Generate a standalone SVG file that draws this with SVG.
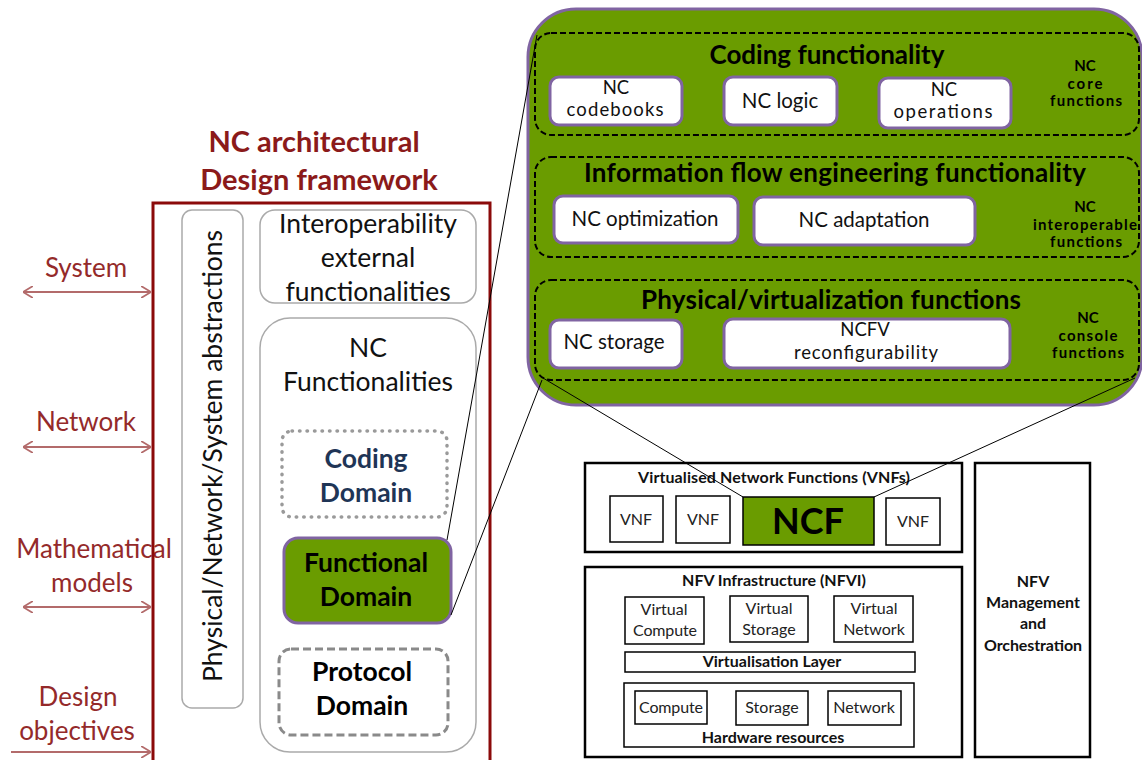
<svg xmlns="http://www.w3.org/2000/svg" width="1142" height="760" viewBox="0 0 1142 760">
  <style>
    text { font-family: Lato, "Liberation Sans", sans-serif; text-anchor: middle; }
    .red { fill: #942a2a; font-size: 26px; }
    .title { fill: #8b1a1a; font-size: 29px; font-weight: bold; }
    .big { fill: #111; font-size: 26.5px; }
    .dom { font-size: 26.5px; font-weight: bold; }
    .sec { font-size: 26px; font-weight: bold; fill: #000; }
    .item { font-size: 20.5px; fill: #111; }
    .item2 { font-size: 18.5px; fill: #111; }
    .side { font-size: 15px; font-weight: bold; fill: #000; }
    .small { font-size: 16px; fill: #222; }
    .bsmall { font-size: 16px; font-weight: bold; fill: #111; }
    .panel { fill: none; stroke: #aaa; stroke-width: 1.5; }
    .section { fill: none; stroke: #000; stroke-width: 2; stroke-dasharray: 6 3; }
    .wbox { fill: #fff; stroke: #8064a2; stroke-width: 3; }
    .nbox { fill: #fff; stroke: #000; stroke-width: 1.5; }
    .nframe { fill: #fff; stroke: #000; stroke-width: 2.5; }
    .link { stroke: #000; stroke-width: 1; fill: none; }
    .arr { stroke: #b36b6b; stroke-width: 2; fill: none; }
  </style>
  <defs>
    <marker id="chev" viewBox="0 0 10 12" refX="10" refY="6" markerWidth="10" markerHeight="12" markerUnits="userSpaceOnUse" orient="auto-start-reverse">
      <path d="M0,0 L10,6 L0,12" fill="none" stroke="#b36b6b" stroke-width="1.8"/>
    </marker>
  </defs>

  <!-- framework title -->
  <g id="framework-title">
    <text class="title" x="314" y="152">NC architectural</text>
    <text class="title" x="319" y="190">Design framework</text>
  </g>

  <!-- levels on the left -->
  <g id="levels">
    <text class="red" x="86" y="277">System</text>
    <text class="red" x="86" y="431">Network</text>
    <text class="red" x="94" y="558">Mathematical</text>
    <text class="red" x="92" y="592">models</text>
    <text class="red" x="78" y="706">Design</text>
    <text class="red" x="77" y="740">objectives</text>
    <line class="arr" x1="23" y1="292" x2="151" y2="292" marker-start="url(#chev)" marker-end="url(#chev)"/>
    <line class="arr" x1="23" y1="447" x2="151" y2="447" marker-start="url(#chev)" marker-end="url(#chev)"/>
    <line class="arr" x1="23" y1="607" x2="151" y2="607" marker-start="url(#chev)" marker-end="url(#chev)"/>
    <line class="arr" x1="11" y1="752" x2="151" y2="752" marker-end="url(#chev)"/>
  </g>

  <!-- framework frame -->
  <g id="framework">
    <rect x="153" y="203" width="337" height="570" fill="none" stroke="#8b0a0a" stroke-width="3"/>
  </g>

  <g id="abstractions">
    <rect class="panel" x="182" y="210" width="61" height="498" rx="10"/>
    <text class="big" font-size="27.5" transform="translate(222 456) rotate(-90)">Physical/Network/System abstractions</text>
  </g>

  <g id="interoperability">
    <rect class="panel" x="260" y="210" width="216" height="93" rx="15"/>
    <text class="big" x="368" y="233">Interoperability</text>
    <text class="big" x="368" y="267">external</text>
    <text class="big" x="368" y="301">functionalities</text>
  </g>

  <g id="nc-functionalities">
    <rect class="panel" x="260" y="318" width="216" height="434" rx="30"/>
    <text class="big" x="368" y="357">NC</text>
    <text class="big" x="368" y="391">Functionalities</text>
  </g>

  <g id="coding-domain">
    <rect x="282" y="431" width="165" height="86" rx="10" fill="none" stroke="#9a9a9a" stroke-width="3.5" stroke-dasharray="0.5 7" stroke-linecap="round"/>
    <text class="dom" x="366" y="468" fill="#1f3556">Coding</text>
    <text class="dom" x="366" y="502" fill="#1f3556">Domain</text>
  </g>

  <g id="functional-domain">
    <rect x="284" y="538" width="167" height="85" rx="14" fill="#6a9c00" stroke="#8064a2" stroke-width="3"/>
    <text class="dom" x="366" y="572" fill="#000">Functional</text>
    <text class="dom" x="366" y="606" fill="#000">Domain</text>
  </g>

  <g id="protocol-domain">
    <rect x="279" y="649" width="169" height="86" rx="12" fill="none" stroke="#8a8a8a" stroke-width="3" stroke-dasharray="8 4"/>
    <text class="dom" x="362" y="681" fill="#000">Protocol</text>
    <text class="dom" x="362" y="715" fill="#000">Domain</text>
  </g>

  <!-- expanded functional domain -->
  <g id="ncf-detail">
    <rect x="528" y="9" width="614" height="396" rx="48" fill="#6a9c00" stroke="#8064a2" stroke-width="3"/>
  </g>

  <g id="coding-functionality">
    <rect class="section" x="535" y="33" width="604" height="102" rx="16"/>
    <text class="sec" x="827" y="64" textLength="235">Coding functionality</text>
    <rect class="wbox" x="550" y="77" width="132" height="48" rx="9"/>
    <text class="item2" x="616" y="94">NC</text>
    <text class="item2" x="615" y="116" textLength="97">codebooks</text>
    <rect class="wbox" x="724" y="77" width="113" height="48" rx="9"/>
    <text class="item" x="780" y="108">NC logic</text>
    <rect class="wbox" x="879" y="78" width="132" height="50" rx="9"/>
    <text class="item2" x="944" y="96">NC</text>
    <text class="item2" x="943" y="118" textLength="99">operations</text>
    <text class="side" x="1085" y="71">NC</text>
    <text class="side" x="1085" y="89" textLength="35">core</text>
    <text class="side" x="1086" y="106" textLength="72">functions</text>
  </g>

  <g id="information-flow">
    <rect class="section" x="535" y="157" width="604" height="100" rx="16"/>
    <text class="sec" x="835" y="182" textLength="502">Information flow engineering functionality</text>
    <rect class="wbox" x="554" y="196" width="184" height="47" rx="9"/>
    <text class="item" x="645" y="226">NC optimization</text>
    <rect class="wbox" x="754" y="197" width="221" height="48" rx="9"/>
    <text class="item" x="864" y="227">NC adaptation</text>
    <text class="side" x="1085" y="212">NC</text>
    <text class="side" x="1085" y="230" textLength="104">interoperable</text>
    <text class="side" x="1086" y="247" textLength="72">functions</text>
  </g>

  <g id="physical-virtualization">
    <rect class="section" x="535" y="280" width="604" height="100" rx="16"/>
    <text class="sec" x="831" y="309" textLength="380">Physical/virtualization functions</text>
    <rect class="wbox" x="550" y="320" width="132" height="48" rx="9"/>
    <text class="item" x="614" y="349">NC storage</text>
    <rect class="wbox" x="724" y="319" width="286" height="49" rx="9"/>
    <text class="item2" x="865" y="336">NCFV</text>
    <text class="item2" x="866" y="359" textLength="144">reconfigurability</text>
    <text class="side" x="1088" y="323">NC</text>
    <text class="side" x="1088" y="341" textLength="59">console</text>
    <text class="side" x="1088" y="358" textLength="72">functions</text>
  </g>

  <!-- NFV reference architecture -->
  <g id="vnfs">
    <rect class="nframe" x="585" y="463" width="377" height="89"/>
    <text class="bsmall" x="774" y="483" textLength="272">Virtualised Network Functions (VNFs)</text>
    <rect class="nbox" x="610" y="496" width="53" height="46"/>
    <text class="small" x="636" y="525">VNF</text>
    <rect class="nbox" x="676" y="496" width="54" height="47"/>
    <text class="small" x="703" y="525">VNF</text>
    <rect class="nbox" x="886" y="498" width="54" height="47"/>
    <text class="small" x="913" y="527">VNF</text>
  </g>

  <g id="ncf">
    <rect x="743" y="497" width="131" height="48" fill="#6a9c00" stroke="#000" stroke-width="1.5"/>
    <text x="808" y="534" font-family="'Liberation Sans', Arial, sans-serif" font-size="36" font-weight="bold" fill="#000">NCF</text>
  </g>

  <g id="nfvi">
    <rect class="nframe" x="585" y="567" width="377" height="190"/>
    <text class="bsmall" x="774" y="586">NFV Infrastructure (NFVI)</text>
    <rect class="nbox" x="625" y="597" width="79" height="47"/>
    <text class="small" x="664" y="615">Virtual</text>
    <text class="small" x="665" y="636" textLength="64">Compute</text>
    <rect class="nbox" x="730" y="596" width="78" height="46"/>
    <text class="small" x="769" y="614">Virtual</text>
    <text class="small" x="769" y="635">Storage</text>
    <rect class="nbox" x="834" y="596" width="79" height="46"/>
    <text class="small" x="874" y="614">Virtual</text>
    <text class="small" x="874" y="635">Network</text>
    <rect class="nbox" x="625" y="652" width="290" height="20"/>
    <text class="bsmall" x="772" y="667">Virtualisation Layer</text>
    <rect class="nbox" x="624" y="683" width="290" height="64"/>
    <rect class="nbox" x="635" y="691" width="72" height="33"/>
    <text class="small" x="671" y="713" textLength="64">Compute</text>
    <rect class="nbox" x="736" y="691" width="72" height="34"/>
    <text class="small" x="772" y="713">Storage</text>
    <rect class="nbox" x="828" y="691" width="73" height="34"/>
    <text class="small" x="864" y="713">Network</text>
    <text class="bsmall" x="773" y="743">Hardware resources</text>
  </g>

  <g id="nfv-mano">
    <rect class="nframe" x="975" y="463" width="115" height="294"/>
    <text class="bsmall" x="1033" y="587">NFV</text>
    <text class="bsmall" x="1033" y="608">Management</text>
    <text class="bsmall" x="1033" y="629">and</text>
    <text class="bsmall" x="1033" y="651" textLength="98">Orchestration</text>
  </g>

  <!-- zoom-out connectors -->
  <g id="connectors">
    <line class="link" x1="447" y1="540" x2="537" y2="35"/>
    <line class="link" x1="451" y1="615" x2="542" y2="380"/>
    <line class="link" x1="543" y1="378" x2="743" y2="497"/>
    <line class="link" x1="1135" y1="378" x2="874" y2="497"/>
  </g>
</svg>
